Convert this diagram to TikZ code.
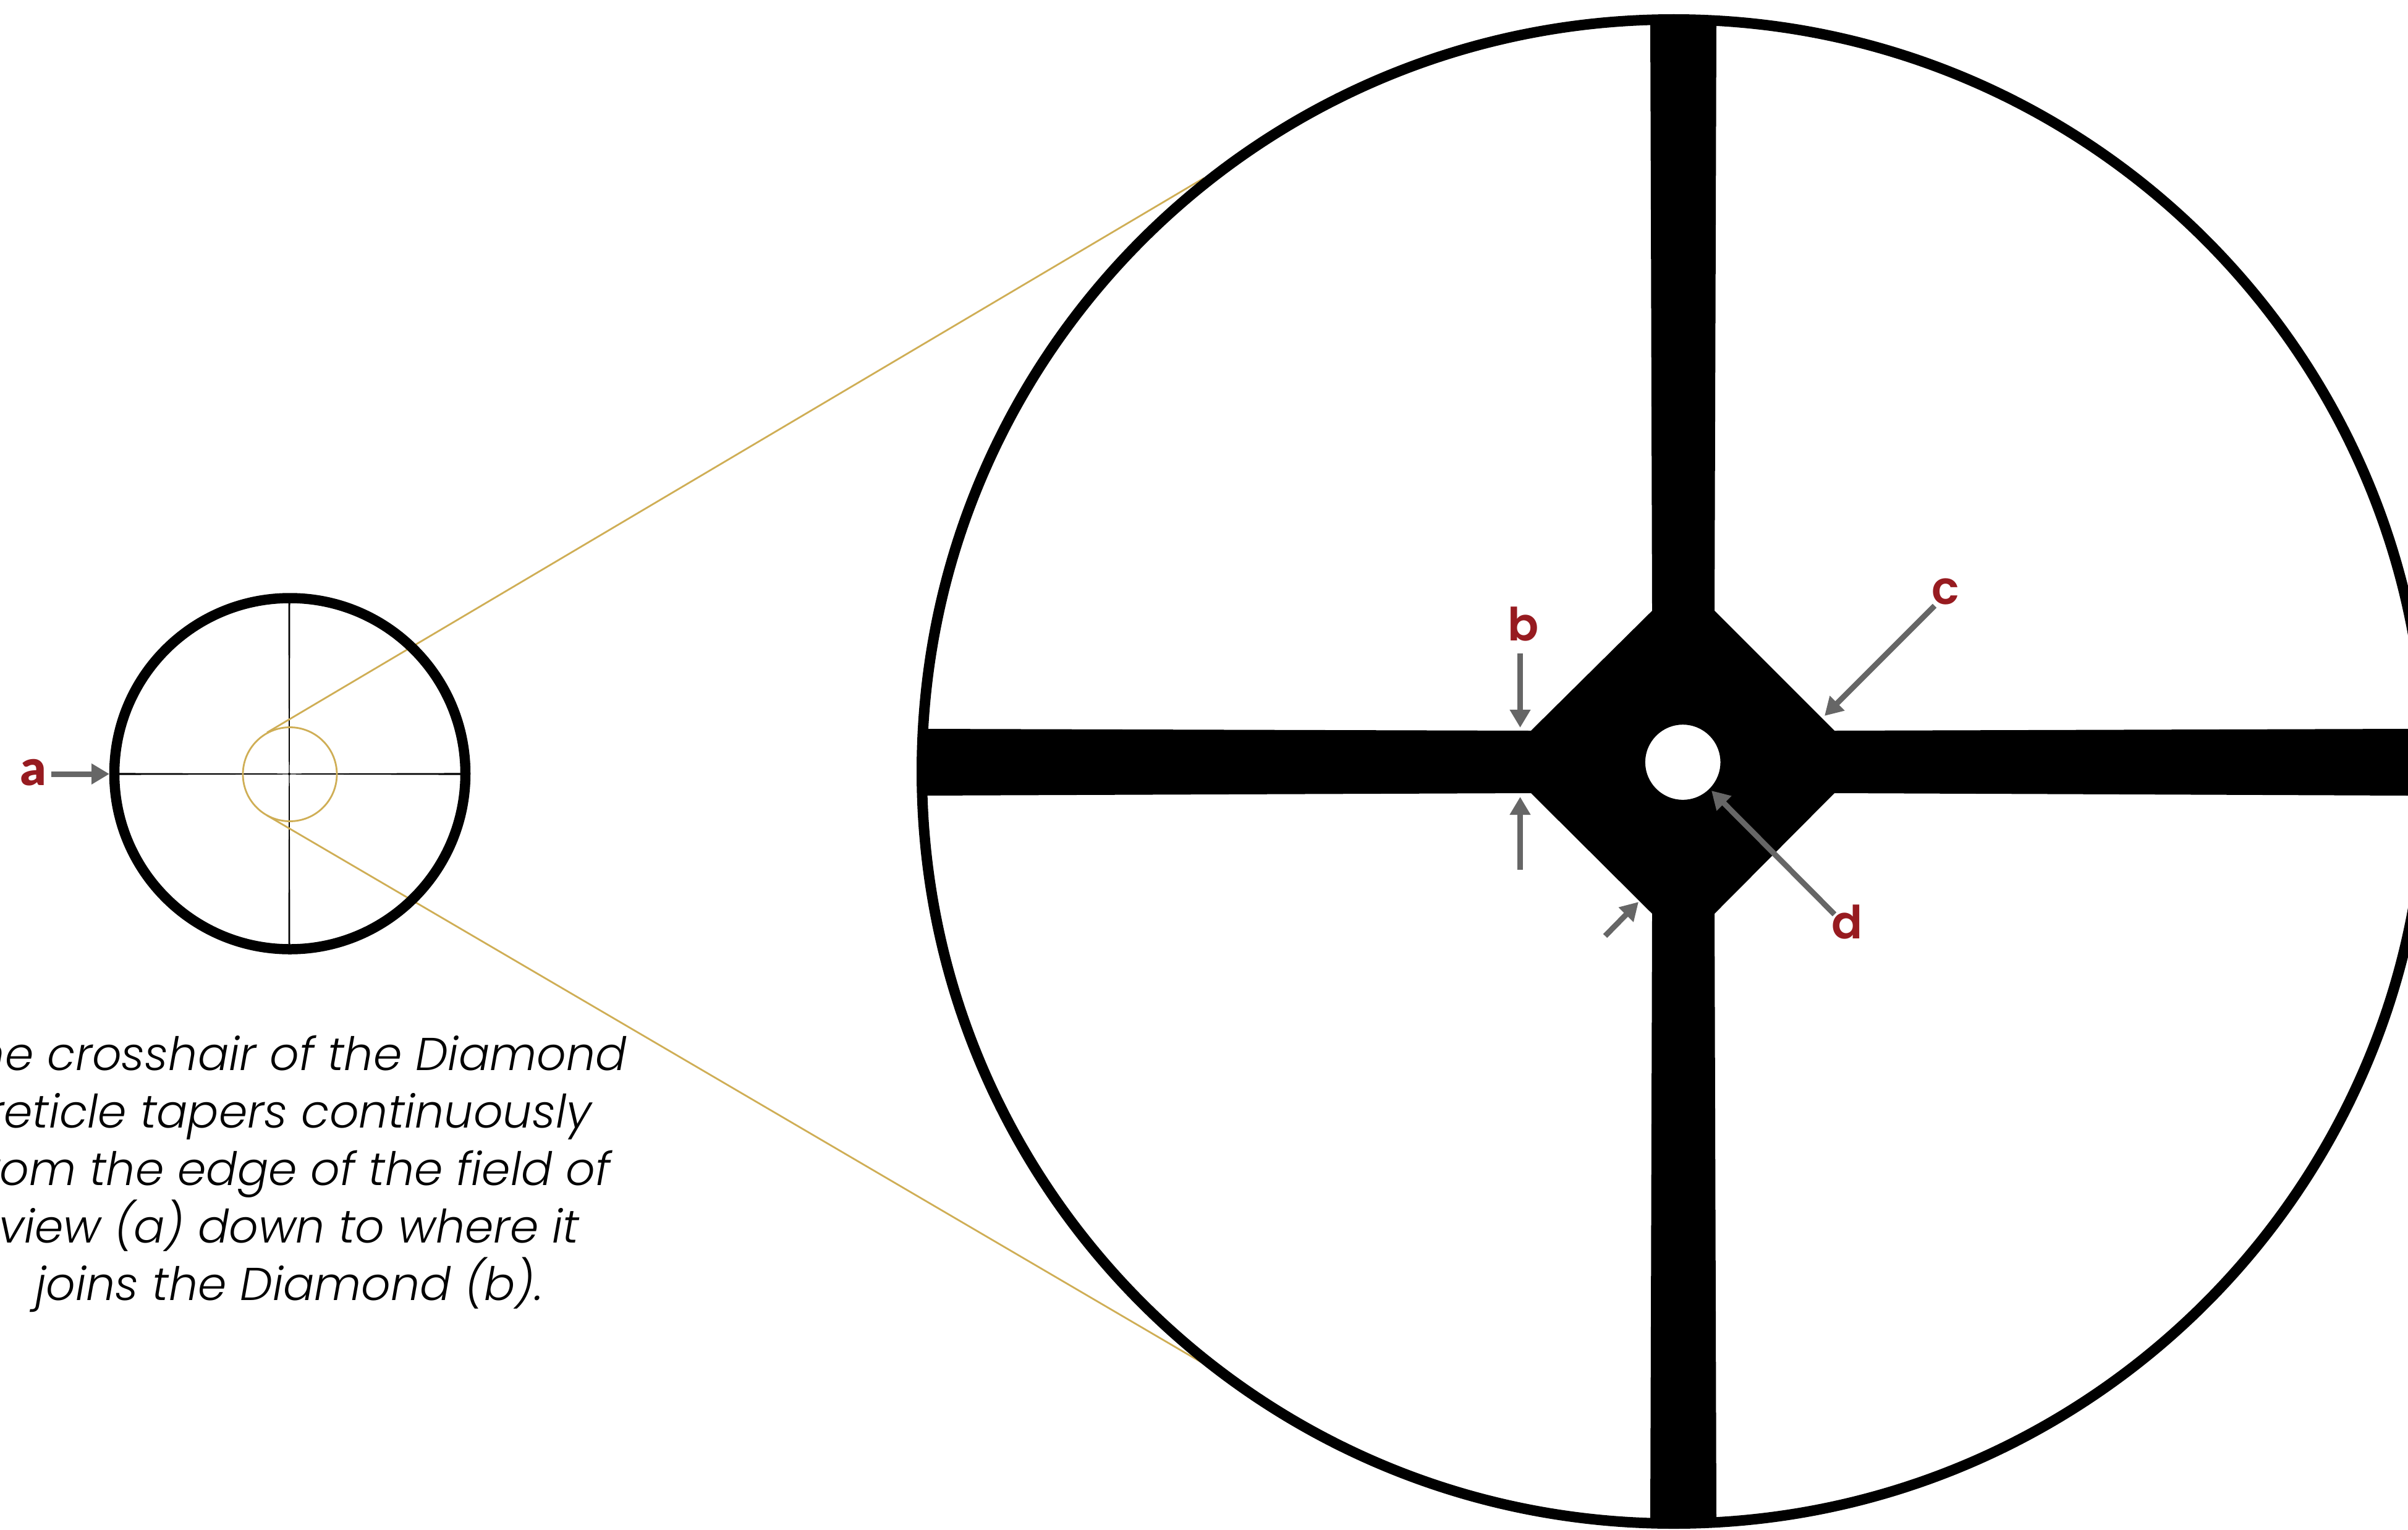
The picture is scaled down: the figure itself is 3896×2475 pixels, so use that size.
\documentclass[tikz,border=0pt]{standalone}
\usepackage{fontspec}
\usetikzlibrary{arrows.meta}
\setmainfont{Poppins}
\newfontfamily\capfont{Poppins Light}
\newfontfamily\lblfont{Poppins SemiBold}
\newfontfamily\lblafont{Lato Black}
\definecolor{gold}{HTML}{CFAE55}
\definecolor{pointer}{HTML}{666666}
\definecolor{lblred}{HTML}{971B20}
\tikzset{
  ringline/.style={draw=black,line width=#1,fill=none},
  goldline/.style={draw=gold,line width=2.8pt},
  ptr/.style={draw=pointer,line width=9pt,-{Triangle[length=29pt,width=32pt]}},
  lbl/.style={font=\lblfont\fontsize{74}{74}\selectfont,text=lblred,anchor=base,inner sep=0pt},
  lbla/.style={font=\lblafont\fontsize{80}{80}\selectfont,text=lblred,anchor=base,inner sep=0pt},
  caption/.style={font=\capfont\itshape\fontsize{74.5}{93}\selectfont,align=center,anchor=base,inner sep=0pt}
}
\begin{document}
\begin{tikzpicture}[x=1pt,y=-1pt]
\useasboundingbox (0,0) rectangle (3896,2475);
\clip (0,0) rectangle (3896,2475);
\fill[white] (0,0) rectangle (3896,2475);
% lens lines
\coordinate (gu) at (432,1185);
\coordinate (gl) at (432,1319);
\coordinate (bu) at (1948,288);
\coordinate (bl) at (1952,2208.5);
% small crosshair
\fill (193,1250.4) -- (468,1251.3) -- (745,1250.4) -- (745,1253.6) -- (468,1252.7) -- (193,1253.6) -- cycle;
\fill (466.5,976) -- (467.3,1252) -- (466.5,1528) -- (469.5,1528) -- (468.7,1252) -- (469.5,976) -- cycle;
\fill (468,1252) circle (2);
\draw[goldline] (469,1252.5) circle (76);
\draw[goldline] (gu) -- (bu);
\draw[goldline] (gl) -- (bl);
\draw[ringline=16.5pt] (469,1251.5) circle (284);
% big reticle
\fill[even odd rule]
  (2670,33) -- (2777,33) -- (2774,988) -- (2968,1182) -- (3896,1179) -- (3896,1287)
  -- (2968,1283) -- (2774,1478) -- (2777,2462) -- (2670,2462) -- (2673,1478)
  -- (2477,1283) -- (1492,1287) -- (1492,1179) -- (2477,1182) -- (2673,988) -- cycle
  (2722.7,1233) circle (60.8);
\draw[ringline=17pt] (2708,1248) circle (1216.5);
% labels
\node[lbla] (la) at (54,1270) {a};
\node[lbl] (lb) at (2465,1036) {b};
\node[lbl] (lc) at (3148,977) {c};
\node[lbl] (ld) at (2989,1518) {d};
% pointers
\coordinate (atail) at (83,1252);
\coordinate (atip) at (177,1252);
\coordinate (b1tail) at (2459.5,1057);
\coordinate (b1tip) at (2459.5,1177);
\coordinate (b2tail) at (2459.5,1407);
\coordinate (b2tip) at (2459.5,1289);
\coordinate (ctail) at (3130,980);
\coordinate (ctip) at (2952,1158);
\coordinate (c2tail) at (2597,1514);
\coordinate (c2tip) at (2651,1459);
\coordinate (dtail) at (2968,1479);
\coordinate (dtip) at (2769,1279);
\draw[ptr] (atail) -- (atip);
\draw[ptr] (b1tail) -- (b1tip);
\draw[ptr] (b2tail) -- (b2tip);
\draw[ptr] (ctail) -- (ctip);
\draw[ptr] (c2tail) -- (c2tip);
\draw[ptr] (dtail) -- (dtip);
% caption
\node[caption] (cap) at (468,2103.5) {The crosshair of the Diamond\\reticle tapers continuously\\from the edge of the field of\\view (a) down to where it\\joins the Diamond (b).};
\end{tikzpicture}
\end{document}
